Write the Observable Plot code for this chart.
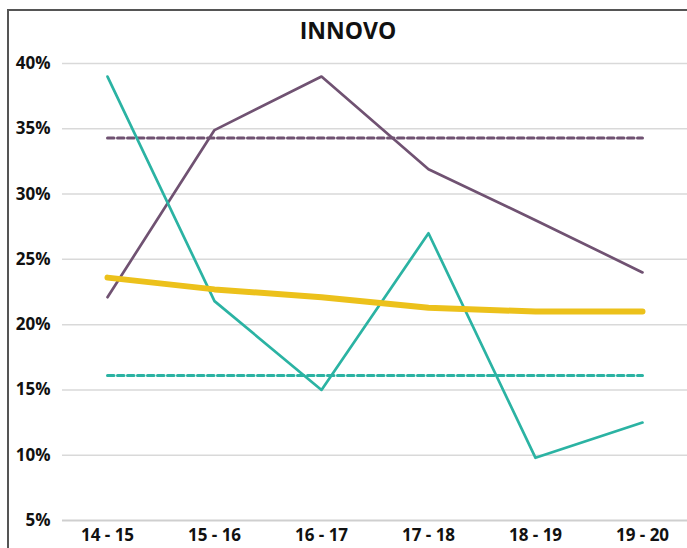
<!DOCTYPE html>
<html>
<head>
<meta charset="utf-8">
<script src="https://cdn.jsdelivr.net/npm/d3@7"></script>
<script src="https://cdn.jsdelivr.net/npm/@observablehq/plot@0.6"></script>
<style>
  html, body { margin: 0; padding: 0; background: #fff; width: 687px; height: 548px; overflow: hidden; }
  #frame { position: absolute; left: 7px; top: 9px; right: 0; bottom: 0;
           border-left: 2px solid #555; border-top: 2px solid #555; }
  #title { position: absolute; left: 0; right: 0; top: 4px; text-align: center;
           font-family: "Open Sans", sans-serif; font-weight: 700; font-size: 23px; color: #111; line-height: 30px; }
  #chart { position: absolute; left: 0; top: 39px; }
</style>
</head>
<body>
<div id="frame">
  <div id="title">INNOVO</div>
  <div id="chart"></div>
</div>
<script>
const seasons = ["14 - 15", "15 - 16", "16 - 17", "17 - 18", "18 - 19", "19 - 20"];
const tealValues = [0.39, 0.218, 0.15, 0.27, 0.098, 0.125];
const purpleValues = [0.221, 0.349, 0.39, 0.319, 0.28, 0.24];
const yellowValues = [0.236, 0.227, 0.221, 0.213, 0.210, 0.210];
const tealAverage = 0.161;
const purpleAverage = 0.343;
const yTicks = [0.05, 0.10, 0.15, 0.20, 0.25, 0.30, 0.35, 0.40];

const toRows = (vals) => seasons.map((s, i) => ({season: s, value: vals[i]}));
const ends = [seasons[0], seasons[seasons.length - 1]];

const teal = "#2bb3a3";
const purple = "#705272";
const yellow = "#ecc11b";

const chart = Plot.plot({
  width: 678,
  height: 498,
  marginLeft: 53,
  marginRight: 0,
  marginTop: 13,
  marginBottom: 28,
  style: {fontFamily: "Open Sans, sans-serif", fontSize: "17px", fontWeight: "700", color: "#111", background: "transparent", overflow: "visible"},
  x: {type: "point", domain: seasons, padding: 0.4, label: null, tickSize: 0, tickPadding: 8},
  y: {domain: [0.05, 0.40], ticks: yTicks, tickFormat: d3.format(".0%"), label: null, tickSize: 0, tickPadding: 12},
  marks: [
    Plot.ruleY(yTicks.slice(1), {stroke: "#d9d9d9", strokeWidth: 1.5}),
    Plot.ruleY([0.05], {stroke: "#cfcfcf", strokeWidth: 2}),
    Plot.line(ends, {x: d => d, y: () => purpleAverage, stroke: purple, strokeWidth: 3, strokeDasharray: "6.5,3.5"}),
    Plot.line(ends, {x: d => d, y: () => tealAverage, stroke: teal, strokeWidth: 3, strokeDasharray: "6.5,3.5"}),
    Plot.line(toRows(purpleValues), {x: "season", y: "value", stroke: purple, strokeWidth: 2.7}),
    Plot.line(toRows(tealValues), {x: "season", y: "value", stroke: teal, strokeWidth: 2.7}),
    Plot.line(toRows(yellowValues), {x: "season", y: "value", stroke: yellow, strokeWidth: 6, strokeLinecap: "round"})
  ]
});
document.getElementById("chart").appendChild(chart);
</script>
</body>
</html>
